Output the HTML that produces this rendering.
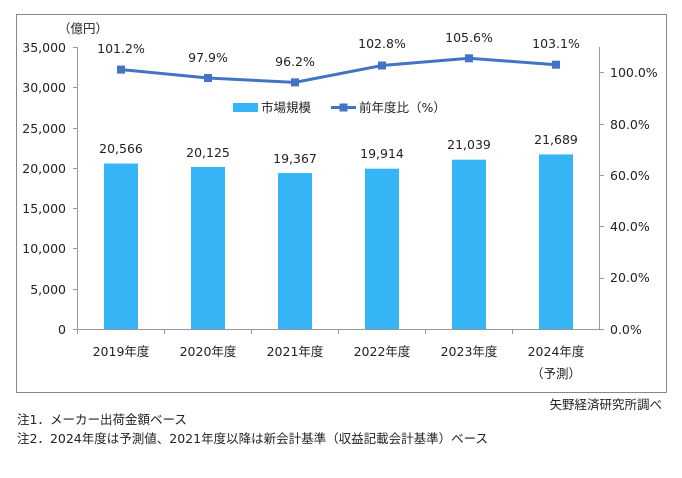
<!DOCTYPE html>
<html><head><meta charset="utf-8"><style>
body{margin:0;background:#fff;}
svg text{font-family:"DejaVu Sans","Noto Sans CJK JP",sans-serif;font-size:12.5px;fill:#222;}
</style></head><body>
<svg width="682" height="473" xmlns="http://www.w3.org/2000/svg">
<rect x="16.5" y="14.5" width="650" height="378" fill="#fff" stroke="#888" stroke-width="1"/>
<text x="58" y="33">（億円）</text>
<g text-anchor="end">
<text x="66" y="52">35,000</text><text x="66" y="92">30,000</text><text x="66" y="133">25,000</text>
<text x="66" y="173">20,000</text><text x="66" y="213">15,000</text><text x="66" y="253">10,000</text>
<text x="66" y="294">5,000</text><text x="66" y="334">0</text>
</g>
<g>
<text x="610" y="77">100.0%</text><text x="610" y="129">80.0%</text><text x="610" y="180">60.0%</text>
<text x="610" y="231">40.0%</text><text x="610" y="282">20.0%</text><text x="610" y="334">0.0%</text>
</g>
<g stroke="#999" stroke-width="1">
<line x1="77.5" y1="47" x2="77.5" y2="329"/>
<line x1="599.5" y1="47" x2="599.5" y2="329"/>
<line x1="77" y1="329.5" x2="600" y2="329.5"/>
<line x1="73" y1="47.5" x2="77" y2="47.5"/><line x1="73" y1="87.5" x2="77" y2="87.5"/><line x1="73" y1="128.5" x2="77" y2="128.5"/><line x1="73" y1="168.5" x2="77" y2="168.5"/><line x1="73" y1="208.5" x2="77" y2="208.5"/><line x1="73" y1="248.5" x2="77" y2="248.5"/><line x1="73" y1="289.5" x2="77" y2="289.5"/><line x1="73" y1="329.5" x2="77" y2="329.5"/>
<line x1="600" y1="72.5" x2="604" y2="72.5"/><line x1="600" y1="124.5" x2="604" y2="124.5"/><line x1="600" y1="175.5" x2="604" y2="175.5"/><line x1="600" y1="226.5" x2="604" y2="226.5"/><line x1="600" y1="278.5" x2="604" y2="278.5"/><line x1="600" y1="329.5" x2="604" y2="329.5"/>
<line x1="164.5" y1="329" x2="164.5" y2="334"/><line x1="251.5" y1="329" x2="251.5" y2="334"/><line x1="338.5" y1="329" x2="338.5" y2="334"/><line x1="425.5" y1="329" x2="425.5" y2="334"/><line x1="512.5" y1="329" x2="512.5" y2="334"/><line x1="77.5" y1="329" x2="77.5" y2="334"/>
</g>
<g fill="#35B4F6">
<rect x="104" y="163.5" width="34" height="165.5"/>
<rect x="191" y="167" width="34" height="162"/>
<rect x="278" y="173.1" width="34" height="155.9"/>
<rect x="365" y="168.7" width="34" height="160.3"/>
<rect x="452" y="159.7" width="34" height="169.3"/>
<rect x="539" y="154.4" width="34" height="174.6"/>
</g>
<g text-anchor="middle">
<text x="121" y="153">20,566</text><text x="208" y="157">20,125</text><text x="295" y="163">19,367</text>
<text x="382" y="158">19,914</text><text x="469" y="149">21,039</text><text x="556" y="144">21,689</text>
<text x="121" y="356">2019年度</text><text x="208" y="356">2020年度</text><text x="295" y="356">2021年度</text>
<text x="382" y="356">2022年度</text><text x="469" y="356">2023年度</text><text x="556" y="356">2024年度</text>
<text x="556" y="378">（予測）</text>
<text x="121" y="53">101.2%</text><text x="208" y="62">97.9%</text><text x="295" y="66">96.2%</text>
<text x="382" y="48">102.8%</text><text x="469" y="42">105.6%</text><text x="556" y="48">103.1%</text>
</g>
<polyline points="121,69.6 208,78 295,82.4 382,65.5 469,58.3 556,64.7" fill="none" stroke="#4472C4" stroke-width="3"/>
<g fill="#4472C4">
<rect x="117" y="65.6" width="8" height="8"/><rect x="204" y="74" width="8" height="8"/><rect x="291" y="78.4" width="8" height="8"/>
<rect x="378" y="61.5" width="8" height="8"/><rect x="465" y="54.3" width="8" height="8"/><rect x="552" y="60.7" width="8" height="8"/>
</g>
<rect x="233" y="103" width="25" height="9" fill="#35B4F6"/>
<text x="261" y="112">市場規模</text>
<line x1="331" y1="107.5" x2="356" y2="107.5" stroke="#4472C4" stroke-width="3"/>
<rect x="339.5" y="103.5" width="8" height="8" fill="#4472C4"/>
<text x="359" y="112">前年度比（%）</text>
<text x="662" y="409" text-anchor="end">矢野経済研究所調べ</text>
<text x="17" y="424">注1．メーカー出荷金額ベース</text>
<text x="17" y="443">注2．2024年度は予測値、2021年度以降は新会計基準（収益記載会計基準）ベース</text>
</svg>
</body></html>
